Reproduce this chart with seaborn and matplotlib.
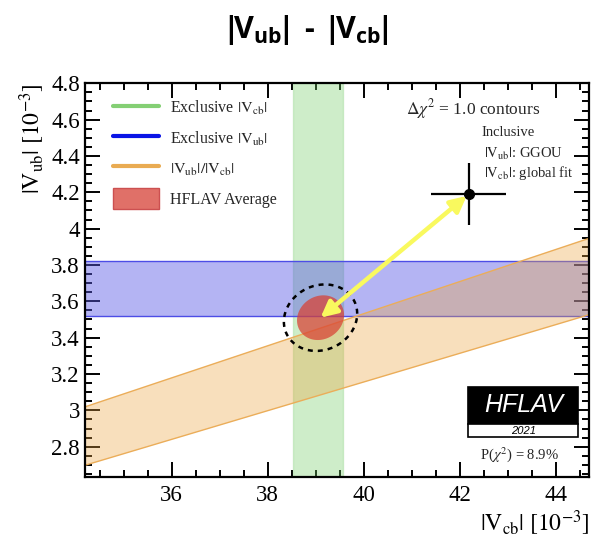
import numpy as np
import pandas as pd
import matplotlib
matplotlib.use("Agg")
import matplotlib.pyplot as plt
import seaborn as sns
from matplotlib.lines import Line2D
from matplotlib.patches import Patch, Rectangle

# ---------------- data ----------------
vcb_excl = [38.52, 39.57]          # exclusive |Vcb| band [1e-3]
vub_excl = [3.52, 3.82]            # exclusive |Vub| band [1e-3]
ratio_central = 0.0836             # |Vub|/|Vcb|
ratio_err = 0.0047
avg_center = [39.10, 3.51]         # HFLAV average (Vcb, Vub)
avg_sigma = [0.49, 0.123]
avg_rho = 0.12
contour_sigma = [0.764, 0.183]     # dashed contour half-widths
incl_point = [42.19, 4.19]         # inclusive (Vcb, Vub)
incl_err = [0.78, 0.17]
xlim = [34.2, 44.7]
ylim = [2.635, 4.8]
legend_labels = [r"Exclusive $|\mathrm{V_{cb}}|$", r"Exclusive $|\mathrm{V_{ub}}|$",
                 r"$|\mathrm{V_{ub}}|/|\mathrm{V_{cb}}|$", "HFLAV Average"]

# ---------------- style ----------------
sns.set_theme(style="ticks")
plt.rcParams["font.family"] = ["Liberation Serif", "DejaVu Serif"]
plt.rcParams["mathtext.fontset"] = "stix"
plt.rcParams["mathtext.bf"] = "Open Sans:bold"
plt.rcParams["mathtext.rm"] = "Open Sans:bold"
plt.rcParams["xtick.direction"] = "in"
plt.rcParams["ytick.direction"] = "in"

fig = plt.figure(figsize=(5.98, 5.38), dpi=100)
ax = fig.add_axes([0.1427, 0.1140, 0.8428, 0.7312])

# green band (exclusive Vcb)
ax.axvspan(vcb_excl[0], vcb_excl[1], facecolor=(0.45, 0.80, 0.40), alpha=0.35,
           edgecolor=(0.55, 0.82, 0.50), lw=1.0, zorder=1)
# blue band (exclusive Vub)
ax.axhspan(vub_excl[0], vub_excl[1], facecolor=(0.35, 0.35, 0.90), alpha=0.45,
           edgecolor="none", zorder=2)
for yv in vub_excl:
    ax.axhline(yv, color=(0.30, 0.30, 0.90), lw=1.0, zorder=2.1)
# orange band (ratio)
xs = np.linspace(xlim[0], xlim[1], 50)
r_lo, r_hi = ratio_central - ratio_err, ratio_central + ratio_err
ax.fill_between(xs, r_lo * xs, r_hi * xs, facecolor=(0.93, 0.65, 0.25), alpha=0.35,
                edgecolor="none", zorder=3)
df_band = pd.DataFrame({"x": np.concatenate([xs, xs]),
                        "y": np.concatenate([r_lo * xs, r_hi * xs]),
                        "edge": ["lo"] * len(xs) + ["hi"] * len(xs)})
sns.lineplot(data=df_band, x="x", y="y", units="edge", estimator=None,
             color=(0.92, 0.68, 0.35), lw=1.0, ax=ax, zorder=3.1)

# HFLAV average ellipse
t = np.linspace(0, 2 * np.pi, 200)
ex = avg_center[0] + avg_sigma[0] * np.cos(t)
ey = avg_center[1] + avg_sigma[1] * (avg_rho * np.cos(t) + np.sqrt(1 - avg_rho ** 2) * np.sin(t))
ax.fill(ex, ey, facecolor=(0.85, 0.25, 0.20), alpha=0.72, edgecolor="none", zorder=4)
cx = avg_center[0] + contour_sigma[0] * np.cos(t)
cy = avg_center[1] + contour_sigma[1] * (avg_rho * np.cos(t) + np.sqrt(1 - avg_rho ** 2) * np.sin(t))
ax.plot(cx, cy, color="black", lw=1.8, ls=(0, (2, 2)), zorder=5)

# inclusive point
ax.errorbar(incl_point[0], incl_point[1], xerr=incl_err[0], yerr=incl_err[1],
            fmt="o", color="black", ms=7, lw=1.6, capsize=0, zorder=6)

# arrow
ax.annotate("", xy=(avg_center[0], avg_center[1]), xytext=(incl_point[0], incl_point[1]),
            arrowprops=dict(arrowstyle="<|-|>", color="#f9f95e", lw=3.2,
                            mutation_scale=24, shrinkA=2, shrinkB=0), zorder=7)

# axes
ax.set_xlim(xlim)
ax.set_ylim(ylim)
ax.set_xticks([36, 38, 40, 42, 44])
ax.set_xticks(np.arange(34.5, 44.75, 0.5), minor=True)
ax.set_yticks(np.round(np.arange(2.8, 4.81, 0.2), 1))
ax.set_yticks(np.arange(2.65, 4.8, 0.05), minor=True)
ax.set_yticklabels(["2.8", "3", "3.2", "3.4", "3.6", "3.8", "4", "4.2", "4.4", "4.6", "4.8"])
ax.tick_params(which="both", direction="in", bottom=True, left=True, top=True, right=True,
               color="black", labelsize=16.5, labelcolor="black")
ax.tick_params(which="major", length=10.5, width=1.4)
ax.tick_params(which="minor", length=5, width=1.4)
ax.tick_params(axis="x", which="major", pad=6)
ax.tick_params(axis="y", which="major", pad=4)
for s in ax.spines.values():
    s.set_visible(True)
    s.set_color("black")
    s.set_linewidth(1.6)
    s.set_zorder(20)

ax.set_xlabel(r"$|\mathrm{V_{cb}}|\ [10^{-3}]$", fontsize=17, loc="right", labelpad=2,
              color="black", math_fontfamily="stix")
ax.set_ylabel(r"$|\mathrm{V_{ub}}|\ [10^{-3}]$", fontsize=17, loc="top", labelpad=3,
              color="black", math_fontfamily="stix")

# legend
handles = [Line2D([0], [0], color="#84cf74", lw=3),
           Line2D([0], [0], color="#0a14e6", lw=3),
           Line2D([0], [0], color="#e9ab52", lw=3),
           Patch(facecolor="#e07068", edgecolor="#cc5050")]
ax.legend(handles, legend_labels, loc="upper left", bbox_to_anchor=(0.055, 0.963),
          frameon=False, fontsize=11.5, handlelength=2.9, handleheight=1.6,
          handletextpad=0.65, labelspacing=0.6, borderpad=0, borderaxespad=0)

# texts
ax.text(0.769, 0.9347, r"$\Delta\chi^2$ = 1.0 contours", transform=ax.transAxes,
        ha="center", va="center", fontsize=12.5)
ax.text(0.785, 0.8744, "Inclusive", transform=ax.transAxes, ha="left", va="center", fontsize=10.5)
ax.text(0.791, 0.820, r"$|\mathrm{V_{ub}}|$: GGOU", transform=ax.transAxes, ha="left",
        va="center", fontsize=10.5)
ax.text(0.791, 0.772, r"$|\mathrm{V_{cb}}|$: global fit", transform=ax.transAxes, ha="left",
        va="center", fontsize=10.5)

# HFLAV logo
ax.add_patch(Rectangle((0.760, 0.134), 0.218, 0.0948, transform=ax.transAxes,
                       facecolor="black", edgecolor="black", lw=1.2, zorder=10))
ax.add_patch(Rectangle((0.760, 0.1001), 0.218, 0.0339, transform=ax.transAxes,
                       facecolor="white", edgecolor="black", lw=1.2, zorder=10))
ax.text(0.869, 0.1823, "HFLAV", transform=ax.transAxes, ha="center", va="center",
        color="white", fontsize=18, style="italic", family=["Liberation Sans"], zorder=11)
ax.text(0.869, 0.1172, "2021", transform=ax.transAxes, ha="center", va="center",
        color="black", fontsize=8, style="italic", family=["Liberation Sans"], zorder=11)
ax.text(0.8605, 0.0552, r"P($\chi^2$) = 8.9%", transform=ax.transAxes, ha="center",
        va="center", fontsize=10.5)

# title
fig.text(0.51, 0.945, r"$|\!\mathrm{V_{ub}}\!|\ \text{-}\ |\!\mathrm{V_{cb}}\!|$", ha="center",
         va="center", fontsize=22, fontweight="bold", family=["Open Sans"],
         math_fontfamily="custom", color="black")

fig.savefig("out.png", dpi=100)
